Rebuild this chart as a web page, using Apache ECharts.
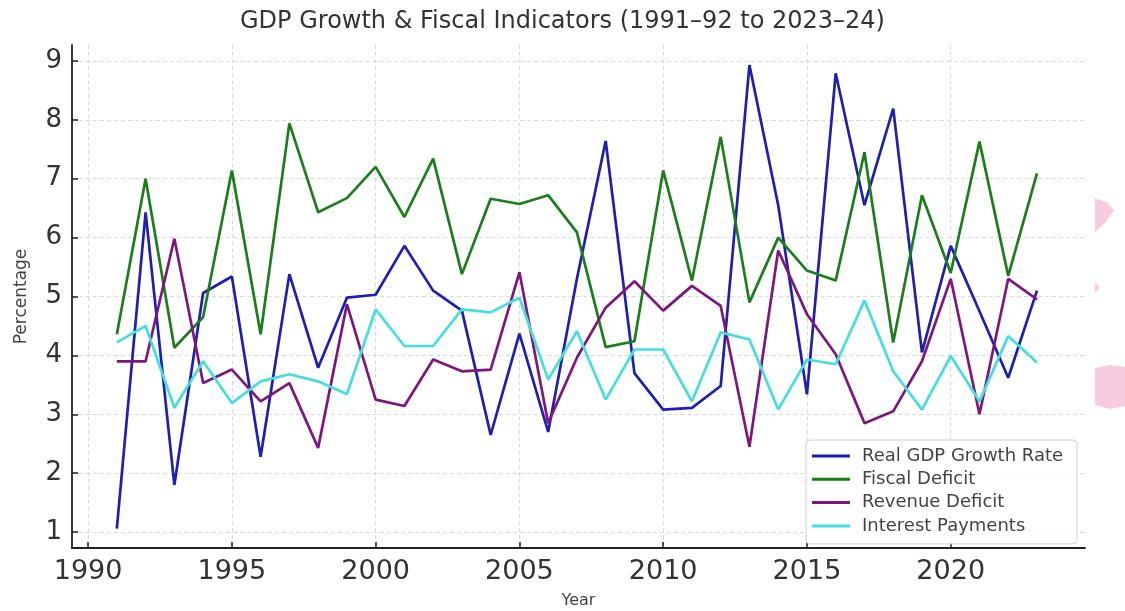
<!DOCTYPE html>
<html>
<head>
<meta charset="utf-8">
<script src="https://cdn.jsdelivr.net/npm/echarts@6/dist/echarts.min.js"></script>
<style>
  html, body { margin: 0; padding: 0; background: #fff; }
  #chart { width: 1125px; height: 611px; }
</style>
</head>
<body>
<div id="chart"></div>
<script>
// GDP growth and fiscal indicators, 1991-92 to 2023-24

var years = [1991, 1992, 1993, 1994, 1995, 1996, 1997, 1998, 1999, 2000, 2001,
  2002, 2003, 2004, 2005, 2006, 2007, 2008, 2009, 2010, 2011, 2012, 2013, 2014,
  2015, 2016, 2017, 2018, 2019, 2020, 2021, 2022, 2023]

var gdp_growth = [1.06, 6.43, 1.8, 5.06, 5.34, 2.28, 5.38, 3.79, 4.98, 5.03, 5.86,
  5.1, 4.76, 2.65, 4.37, 2.7, 5.3, 7.64, 3.7, 3.08, 3.11, 3.48, 8.93, 6.55,
  3.34, 8.79, 6.55, 8.19, 4.05, 5.86, 4.75, 3.62, 5.1]

var fiscal_deficit = [4.36, 7.0, 4.13, 4.65, 7.14, 4.36, 7.94, 6.43, 6.67, 7.2, 6.35,
  7.34, 5.38, 6.66, 6.57, 6.72, 6.09, 4.14, 4.24, 7.14, 5.27, 7.71, 4.9, 6.0,
  5.44, 5.27, 7.45, 4.22, 6.72, 5.4, 7.63, 5.35, 7.09]

var revenue_deficit = [3.9, 3.9, 5.98, 3.53, 3.76, 3.22, 3.53, 2.43, 4.87, 3.25, 3.14,
  3.93, 3.73, 3.76, 5.41, 2.85, 3.96, 4.81, 5.26, 4.76, 5.18, 4.84, 2.45, 5.78,
  4.7, 4.02, 2.85, 3.05, 3.9, 5.3, 3.0, 5.3, 4.95]

var interest_payments = [4.22, 4.5, 3.11, 3.9, 3.19, 3.56, 3.68, 3.56, 3.34, 4.78, 4.16,
  4.16, 4.78, 4.73, 4.98, 3.59, 4.41, 3.25, 4.1, 4.1, 3.22, 4.39, 4.27, 3.08,
  3.93, 3.85, 4.93, 3.73, 3.08, 3.99, 3.22, 4.33, 3.88]

var x_ticks = [1990, 1995, 2000, 2005, 2010, 2015, 2020]
var y_ticks = [1, 2, 3, 4, 5, 6, 7, 8, 9]

var series_names = ['Real GDP Growth Rate', 'Fiscal Deficit', 'Revenue Deficit', 'Interest Payments']
var series_colors = ['#1e1eb0', '#1c7d1c', '#7d167d', '#45dede']

function pairs (vals) {
  var out = []
  for (var i = 0; i < years.length; i++) {
    out.push([years[i], vals[i]])
  }
  return out
}

var font = 'DejaVu Sans'
var myChart = echarts.init(document.getElementById('chart'), null, {renderer: 'canvas'})

var option = {
  backgroundColor: '#fff',
  animation: false,
  color: series_colors,
  title: {
    text: 'GDP Growth & Fiscal Indicators (1991–92 to 2023–24)',
    left: 'center',
    top: 5,
    textStyle: { fontFamily: font, fontSize: 24, fontWeight: 'normal', color: '#333' }
  },
  grid: { left: 72, right: 40, top: 45, bottom: 63, outerBoundsMode: 'none' },
  legend: {
    orient: 'vertical',
    left: 806,
    top: 440,
    padding: [7, 14, 9, 6],
    itemWidth: 38,
    itemHeight: 3,
    itemGap: 5.3,
    icon: 'rect',
    backgroundColor: 'rgba(255,255,255,0.85)',
    borderColor: '#d0d0d0',
    borderWidth: 1,
    borderRadius: 4,
    textStyle: { fontFamily: font, fontSize: 18, color: '#444', lineHeight: 18, padding: [0, 0, 0, 7] },
    data: series_names
  },
  xAxis: {
    type: 'value',
    min: 1989.44,
    max: 2024.67,
    name: 'Year',
    nameLocation: 'middle',
    nameGap: 45,
    nameTextStyle: { fontFamily: font, fontSize: 16, color: '#444' },
    axisLine: { lineStyle: { color: '#222', width: 1.8 } },
    axisTick: { inside: true, length: 6, customValues: x_ticks, lineStyle: { color: '#222', width: 1.5 } },
    axisLabel: {
      customValues: x_ticks,
      formatter: function (v) { return String(v) },
      fontFamily: font, fontSize: 27, color: '#333', margin: 10
    },
    splitLine: { show: true, lineStyle: { color: '#cfcfcf', type: [4, 3], width: 0.8 } }
  },
  yAxis: {
    type: 'value',
    min: 0.73,
    max: 9.27,
    name: 'Percentage',
    nameLocation: 'middle',
    nameGap: 42,
    nameTextStyle: { fontFamily: font, fontSize: 17, color: '#444' },
    axisLine: { show: true, lineStyle: { color: '#222', width: 1.8 } },
    axisTick: { show: true, inside: true, length: 6, customValues: y_ticks, lineStyle: { color: '#222', width: 1.5 } },
    axisLabel: { customValues: y_ticks, fontFamily: font, fontSize: 26, color: '#333', margin: 10 },
    splitLine: { show: true, lineStyle: { color: '#cfcfcf', type: [4, 3], width: 0.8 } }
  },
  series: [
    { name: series_names[0], type: 'line', data: pairs(gdp_growth), showSymbol: false, lineStyle: { width: 2.7 } },
    { name: series_names[1], type: 'line', data: pairs(fiscal_deficit), showSymbol: false, lineStyle: { width: 2.7 } },
    { name: series_names[2], type: 'line', data: pairs(revenue_deficit), showSymbol: false, lineStyle: { width: 2.7 } },
    { name: series_names[3], type: 'line', data: pairs(interest_payments), showSymbol: false, lineStyle: { width: 2.7 } }
  ],
  // faint pink blobs at the right edge of the picture
  graphic: [
    { type: 'polygon', shape: { points: [[1095, 198], [1108, 203], [1114, 210], [1106, 222], [1095, 232]] }, style: { fill: '#f9cbe0' } },
    { type: 'polygon', shape: { points: [[1095, 282], [1100, 287], [1095, 293]] }, style: { fill: '#f9cbe0' } },
    { type: 'polygon', shape: { points: [[1095, 368], [1110, 365], [1125, 367], [1125, 406], [1110, 409], [1095, 405]] }, style: { fill: '#f9cbe0' } }
  ]
}

myChart.setOption(option)
</script>
</body>
</html>
